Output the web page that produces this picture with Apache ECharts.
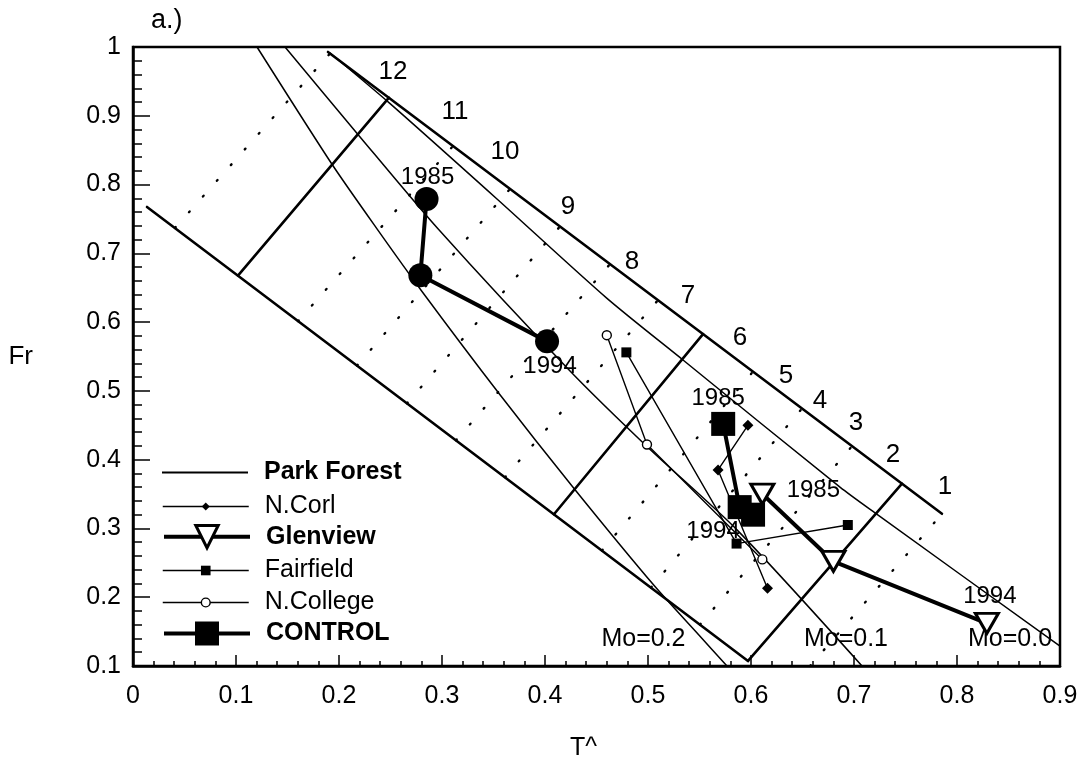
<!DOCTYPE html>
<html>
<head>
<meta charset="utf-8">
<title>Fr vs T^</title>
<script src="https://cdn.jsdelivr.net/npm/echarts@6/dist/echarts.min.js"></script>
<style>
  html, body { margin: 0; padding: 0; background: #fff; }
  #chart { width: 1086px; height: 766px; }
</style>
</head>
<body>
<div id="chart"></div>
<script>
// ---- Site trajectories (T^, Fr) ----
const parkForest = [[0.285, 0.779], [0.279, 0.668], [0.402, 0.572]];
const nCorl      = [[0.597, 0.450], [0.568, 0.385], [0.616, 0.213]];
const glenview   = [[0.611, 0.350], [0.680, 0.252], [0.829, 0.162]];
const fairfield  = [[0.479, 0.556], [0.586, 0.278], [0.694, 0.305]];
const nCollege   = [[0.460, 0.581], [0.499, 0.422], [0.611, 0.255]];
const control    = [[0.573, 0.452], [0.589, 0.331], [0.602, 0.320]];

// Year tags: [point index, text]
const parkForestYears = [[0, '1985'], [2, '1994']];
const glenviewYears   = [[0, '1985'], [2, '1994']];
const controlYears    = [[0, '1985'], [2, '1994']];

// ---- Diagram frame ----
const upperBoundary = [[0.1893, 0.9928], [0.7854, 0.3213]];
const lowerBoundary = [[0.0136, 0.7674], [0.5971, 0.1072]];

// Solid cross lines (zone 12/11, 7/6, 3/2 separators)
const crossSolid = [
  [[0.1019, 0.6677], [0.2485, 0.9263]],
  [[0.4087, 0.3206], [0.5534, 0.5826]],
  [[0.5971, 0.1075], [0.7466, 0.3651]]
];
// Dotted cross lines
const crossDotted = [
  [[0.0408, 0.7370], [0.1913, 0.9906]],
  [[0.1602, 0.6013], [0.3107, 0.8561]],
  [[0.2175, 0.5368], [0.3660, 0.7937]],
  [[0.2660, 0.4819], [0.4146, 0.7391]],
  [[0.3136, 0.4282], [0.4631, 0.6843]],
  [[0.3612, 0.3745], [0.5097, 0.6319]],
  [[0.4553, 0.2679], [0.6019, 0.5280]],
  [[0.5029, 0.2141], [0.6495, 0.4744]],
  [[0.5505, 0.1602], [0.6981, 0.4197]],
  [[0.6573, 0.1000], [0.7854, 0.3213]]
];

// Mo curves
const mo02 = [[0.1204, 1.0], [0.1932, 0.8295], [0.2369, 0.7356], [0.2806, 0.6446], [0.3563, 0.4944],
              [0.4272, 0.3600], [0.5068, 0.2155], [0.5505, 0.1433], [0.5767, 0.1]];
const mo01 = [[0.1476, 1.0], [0.2184, 0.8729], [0.2961, 0.7356], [0.4243, 0.5290], [0.5000, 0.4178],
              [0.5864, 0.2979], [0.7078, 0.1]];
const mo00 = [[0.1913, 0.9913], [0.2485, 0.9191], [0.3534, 0.7790], [0.4602, 0.6345], [0.5340, 0.5449],
              [0.6864, 0.3600], [0.7204, 0.3225], [0.9, 0.1289]];

// Zone numbers along the upper boundary
const zoneNames = ['12', '11', '10', '9', '8', '7', '6', '5', '4', '3', '2', '1'];
const zoneX = [0.2524, 0.3126, 0.3612, 0.4223, 0.4845, 0.5388, 0.5893, 0.6340, 0.6670, 0.7019, 0.7379, 0.7883];
const zoneY = [0.9639, 0.9061, 0.8483, 0.7674, 0.6880, 0.6388, 0.5767, 0.5218, 0.4857, 0.4539, 0.4077, 0.3600];

// Mo curve captions
const moNames = ['Mo=0.2', 'Mo=0.1', 'Mo=0.0'];
const moX = [0.4956, 0.6922, 0.8515];
const moY = [0.1387, 0.1387, 0.1387];

// ---- Styling ----
const FONT = '"Liberation Sans", Arial, Helvetica, sans-serif';
const BLACK = '#000';

// Pixel offsets of year tags relative to their points
const yearOffsets = {
  'Park Forest': { 0: [1, -22], 2: [3, 25] },
  'Glenview':    { 0: [51, -4], 2: [3, -27] },
  'CONTROL':     { 0: [-5, -26], 2: [-40, 17] }
};

function withYears(name, pts, years) {
  const tag = {};
  years.forEach(([i, t]) => { tag[i] = t; });
  return pts.map((p, i) => {
    if (tag[i] === undefined) return p;
    return {
      value: p,
      label: {
        show: true, formatter: tag[i], position: 'inside', offset: yearOffsets[name][i],
        color: BLACK, fontSize: 24, fontFamily: FONT
      }
    };
  });
}

function segment(points, width, type, smooth) {
  return {
    type: 'line', data: points, symbol: 'none', silent: true, animation: false,
    smooth: smooth || false, z: 2,
    lineStyle: { color: BLACK, width: width, type: type || 'solid', cap: 'round' }
  };
}

function textPoints(names, xs, ys, size) {
  return {
    type: 'scatter', silent: true, animation: false, symbolSize: 0, z: 3,
    itemStyle: { opacity: 1 },
    data: names.map((n, i) => ({ value: [xs[i], ys[i]], name: n })),
    label: {
      show: true, position: 'inside', formatter: p => p.name,
      color: BLACK, opacity: 1, fontSize: size, fontFamily: FONT
    }
  };
}

const series = [];
series.push(segment(upperBoundary, 2.6));
series.push(segment(lowerBoundary, 2.6));
crossSolid.forEach(s => series.push(segment(s, 2.6)));
crossDotted.forEach(s => series.push(segment(s, 2.4, [1, 20])));
series.push(segment(mo02, 1.5, 'solid', 0.25));
series.push(segment(mo01, 1.5, 'solid', 0.25));
series.push(segment(mo00, 1.5, 'solid', 0.25));

// Zone numbers and Mo captions
series.push(textPoints(zoneNames, zoneX, zoneY, 26));
series.push(textPoints(moNames, moX, moY, 25));

// Site series
series.push({
  name: 'N.College', type: 'line', data: nCollege, z: 5, animation: false,
  symbol: 'circle', symbolSize: 9,
  lineStyle: { color: BLACK, width: 1.4 },
  itemStyle: { color: '#fff', borderColor: BLACK, borderWidth: 1.4 }
});
series.push({
  name: 'Fairfield', type: 'line', data: fairfield, z: 5, animation: false,
  symbol: 'rect', symbolSize: 10,
  lineStyle: { color: BLACK, width: 1.4 },
  itemStyle: { color: BLACK }
});
series.push({
  name: 'N.Corl', type: 'line', data: nCorl, z: 5, animation: false,
  symbol: 'diamond', symbolSize: 11,
  lineStyle: { color: BLACK, width: 1.4 },
  itemStyle: { color: BLACK }
});
series.push({
  name: 'Park Forest', type: 'line', data: withYears('Park Forest', parkForest, parkForestYears), z: 6, animation: false,
  symbol: 'circle', symbolSize: 24,
  lineStyle: { color: BLACK, width: 4 },
  itemStyle: { color: BLACK }
});
series.push({
  name: 'CONTROL', type: 'line', data: withYears('CONTROL', control, controlYears), z: 6, animation: false,
  symbol: 'rect', symbolSize: 24,
  lineStyle: { color: BLACK, width: 4 },
  itemStyle: { color: BLACK }
});
series.push({
  name: 'Glenview', type: 'line', data: withYears('Glenview', glenview, glenviewYears), z: 7, animation: false,
  symbol: 'triangle', symbolRotate: 180, symbolSize: [23, 20],
  lineStyle: { color: BLACK, width: 4 },
  itemStyle: { color: '#fff', borderColor: BLACK, borderWidth: 3 }
});

// One legend block per entry so each marker keeps its own size
function legendEntry(name, centerY, h, opts) {
  const textH = 26;
  return {
    data: [opts.icon ? { name: name, icon: opts.icon } : name],
    left: 162, top: centerY - Math.max(h, textH) / 2,
    padding: 0, itemWidth: 86, itemHeight: h, selectedMode: false,
    textStyle: { color: BLACK, fontSize: 25, fontFamily: FONT, fontWeight: opts.bold ? 'bold' : 'normal', padding: [0, 0, 0, 11] },
    lineStyle: { color: BLACK, width: opts.lw || 1.5 },
    itemStyle: opts.itemStyle || { color: BLACK, borderWidth: 0 }
  };
}

const legends = [
  legendEntry('Park Forest', 473, 2, { icon: 'rect', bold: true }),
  legendEntry('N.Corl', 507, 10, {}),
  legendEntry('Glenview', 538, 28, { bold: true, lw: 4, itemStyle: { color: '#fff', borderColor: BLACK, borderWidth: 3 } }),
  legendEntry('Fairfield', 571, 12, {}),
  legendEntry('N.College', 603, 11, { itemStyle: { color: '#fff', borderColor: BLACK, borderWidth: 1.4 } }),
  legendEntry('CONTROL', 636, 30, { bold: true, lw: 4 })
];

const fmt = v => String(Math.round(v * 10) / 10);

const option = {
  backgroundColor: '#fff',
  animation: false,
  title: {
    text: 'a.)', left: 146, top: 2,
    textStyle: { color: BLACK, fontSize: 27, fontWeight: 'normal', fontFamily: FONT }
  },
  legend: legends,
  grid: {
    left: 133, right: 26, top: 47, bottom: 96,
    show: true, borderColor: BLACK, borderWidth: 2.5, backgroundColor: 'transparent'
  },
  xAxis: {
    type: 'value', min: 0, max: 0.9, interval: 0.1,
    axisLine: { lineStyle: { color: BLACK, width: 2.5 } },
    axisTick: { inside: true, length: 11, lineStyle: { color: BLACK, width: 1.5 } },
    minorTick: { show: true, splitNumber: 5, length: 5, lineStyle: { color: BLACK, width: 1.5 } },
    splitLine: { show: false },
    axisLabel: { color: BLACK, fontSize: 25, margin: 18, fontFamily: FONT, formatter: fmt },
    name: 'T^', nameLocation: 'middle', nameGap: 70,
    nameTextStyle: { color: BLACK, fontSize: 25, fontFamily: FONT, padding: [0, 26, 0, 0] }
  },
  yAxis: {
    type: 'value', min: 0.1, max: 1, interval: 0.1,
    axisLine: { lineStyle: { color: BLACK, width: 2.5 } },
    axisTick: { inside: true, length: 17, lineStyle: { color: BLACK, width: 1.5 } },
    minorTick: { show: true, splitNumber: 5, length: 9, lineStyle: { color: BLACK, width: 1.5 } },
    splitLine: { show: false },
    axisLabel: { color: BLACK, fontSize: 25, margin: 12, fontFamily: FONT, formatter: fmt },
    name: 'Fr', nameLocation: 'middle', nameGap: 100, nameRotate: 0,
    nameTextStyle: { color: BLACK, fontSize: 26, fontFamily: FONT }
  },
  series: series
};

const chart = echarts.init(document.getElementById('chart'), null, { renderer: 'canvas' });
chart.setOption(option);
</script>
</body>
</html>
